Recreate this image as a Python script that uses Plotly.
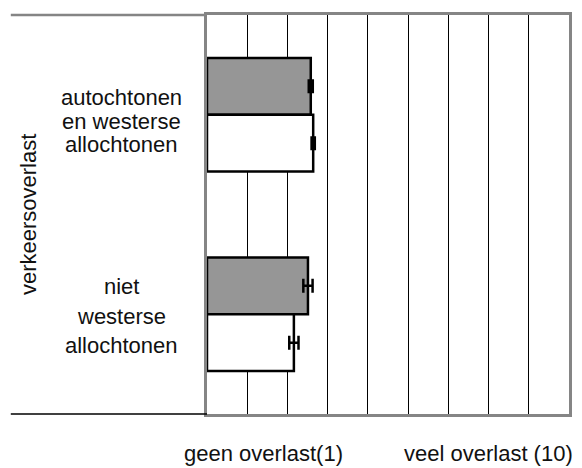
import plotly.graph_objects as go

# Groups on the vertical axis, top to bottom
groups = ["autochtonen en westerse allochtonen", "niet westerse allochtonen"]
group_label_lines = [
    ["autochtonen", "en westerse", "allochtonen"],
    ["niet", "westerse", "allochtonen"],
]

# Mean nuisance score (scale 1-10) per group, two measurements
series_names = ["meting A", "meting B"]
values_a = [3.58, 3.51]
errors_a = [0.05, 0.115]
values_b = [3.64, 3.16]
errors_b = [0.04, 0.115]

axis_title = "verkeersoverlast"
scale_labels = ["geen overlast(1)", "veel overlast (10)"]
scale_min, scale_max = 1, 10

FONT = "Liberation Sans, Arial, sans-serif"
FRAME = "#858585"
TEXT = dict(family=FONT, size=22, color="#111111")

fig = go.Figure()
for name, vals, errs, fill in [
    (series_names[0], values_a, errors_a, "#969696"),
    (series_names[1], values_b, errors_b, "white"),
]:
    # bars start at the scale minimum; lengths are measured from it
    fig.add_trace(go.Bar(
        name=name, y=groups, x=[v - scale_min for v in vals], base=scale_min,
        orientation="h",
        marker=dict(color=fill, line=dict(color="black", width=2.5)),
        error_x=dict(type="data", array=errs, color="black", thickness=2.5, width=7),
    ))

fig.update_layout(
    width=582, height=468,
    margin=dict(l=207, r=10, t=15, b=54),
    paper_bgcolor="white", plot_bgcolor="white",
    barmode="group", bargap=0.43, bargroupgap=0,
    showlegend=False,
    font=TEXT,
    xaxis=dict(
        range=[scale_min, scale_max], dtick=1, tick0=scale_min,
        showgrid=True, gridcolor="black", gridwidth=1,
        showticklabels=False, ticks="", zeroline=False,
        showline=True, mirror=True, linecolor=FRAME, linewidth=2.5,
    ),
    yaxis=dict(
        autorange="reversed", showticklabels=False, ticks="",
        showgrid=False, zeroline=False,
        showline=True, mirror=True, linecolor=FRAME, linewidth=2.5,
    ),
)

# group labels, centred in the left column, one annotation per line
line_steps = [23.5, 29.5]
centre_shifts = [-6.5, -2.0]
for g, lines, step, shift in zip(groups, group_label_lines, line_steps, centre_shifts):
    n = len(lines)
    for i, line in enumerate(lines):
        fig.add_annotation(
            x=-0.236, xref="paper", y=g, yref="y", text=line, showarrow=False,
            xanchor="center", yanchor="middle", align="center",
            yshift=shift - (i - (n - 1) / 2) * step, font=TEXT,
        )

# rotated axis title
fig.add_annotation(
    x=-0.493, xref="paper", y=0.5, yref="paper", text=axis_title, textangle=-90,
    showarrow=False, xanchor="center", yanchor="middle", font=TEXT,
)

# scale end labels below the chart
for xpos, lab in zip([0.156, 0.779], scale_labels):
    fig.add_annotation(
        x=xpos, xref="paper", y=-0.1, yref="paper", text=lab, showarrow=False,
        xanchor="center", yanchor="middle", font=TEXT,
    )

# table rules continuing to the left of the plot
fig.add_shape(type="line", xref="paper", yref="paper", x0=-0.542, x1=0, y0=1, y1=1,
              line=dict(color=FRAME, width=2.5))
fig.add_shape(type="line", xref="paper", yref="paper", x0=-0.542, x1=0, y0=0, y1=0,
              line=dict(color="black", width=1.5))

fig.write_html("out.html")
